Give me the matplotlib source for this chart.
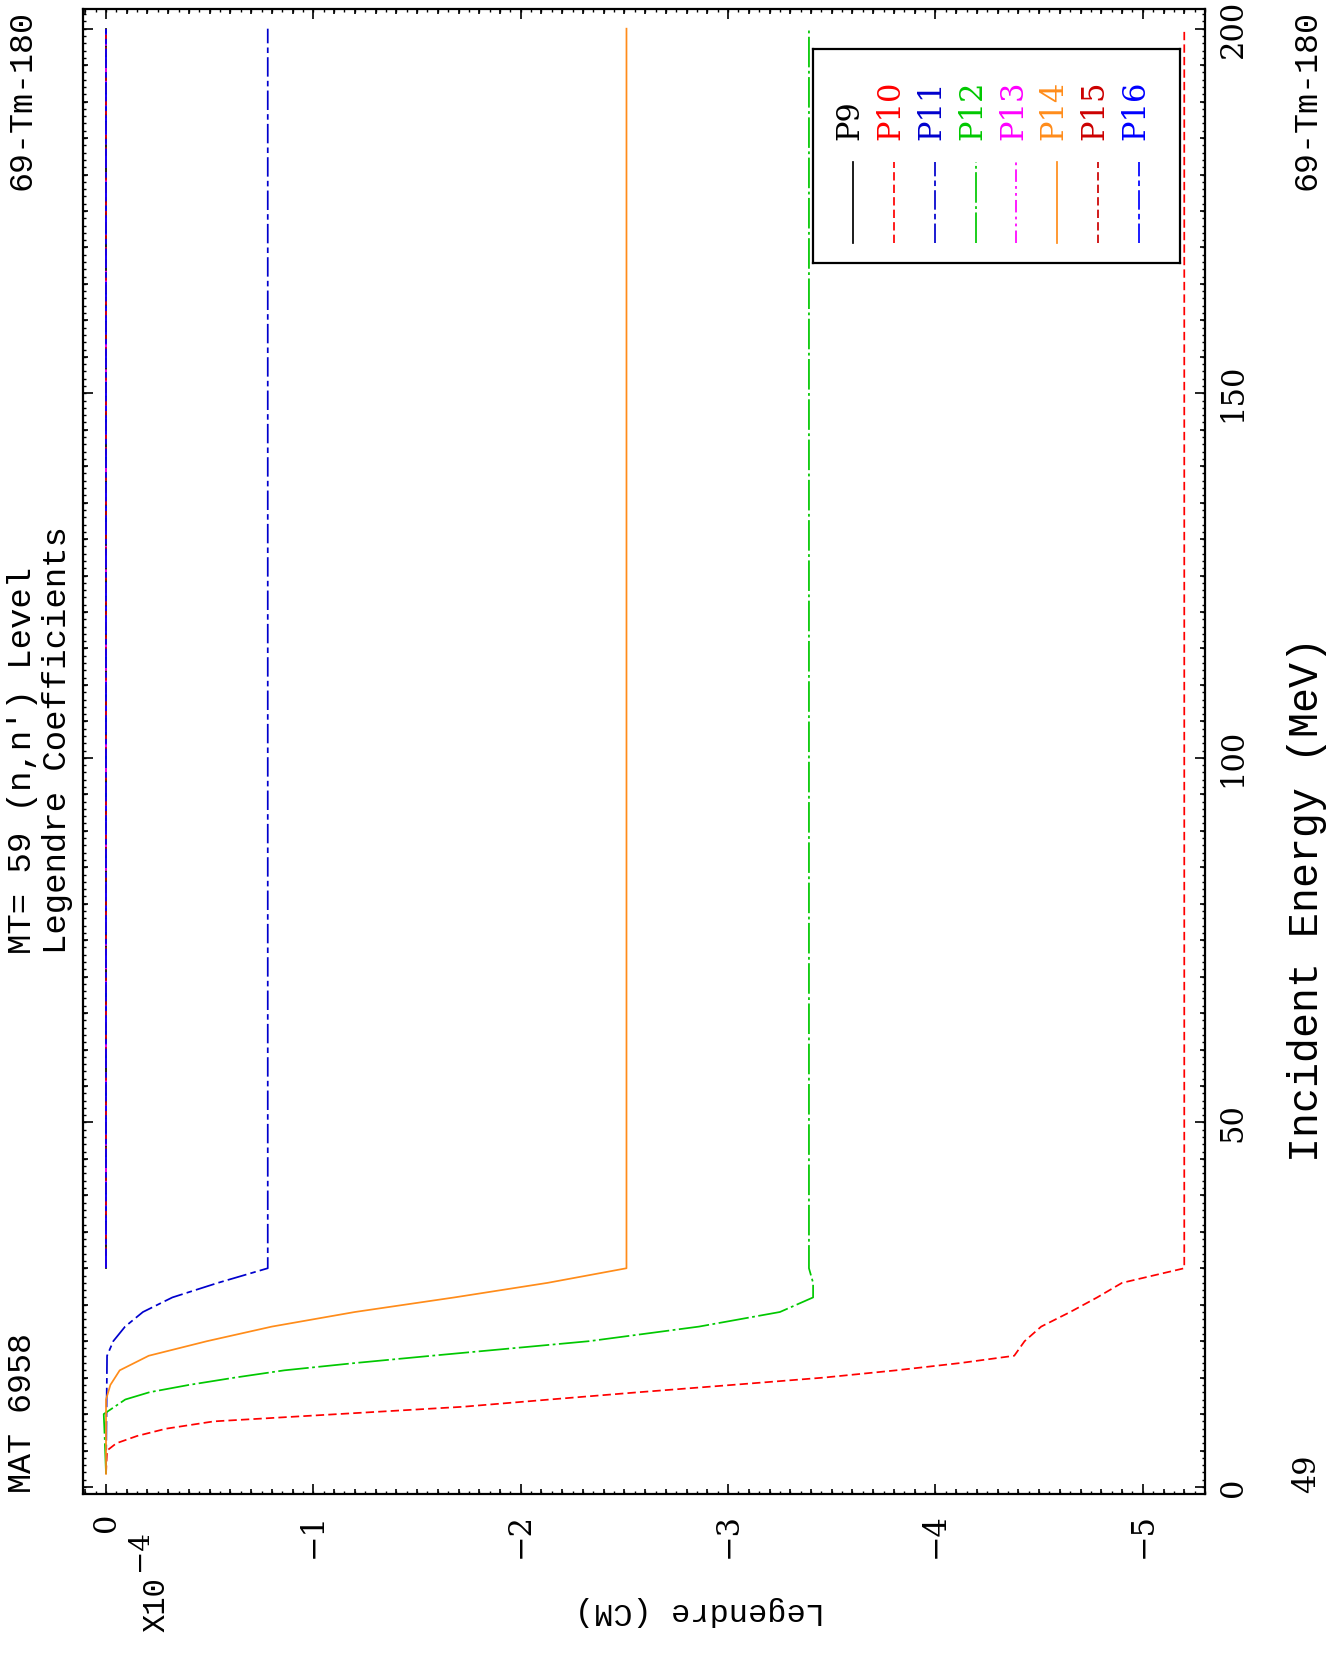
import matplotlib
matplotlib.use('Agg')
import matplotlib.pyplot as plt
from matplotlib.ticker import MultipleLocator, FixedLocator, FuncFormatter

plt.rcParams['lines.scale_dashes'] = False

W, H = 1334, 1662

# Legendre coefficients (units of 1e-4) vs incident energy (MeV)
names = ['P9', 'P10', 'P11', 'P12', 'P13', 'P14', 'P15', 'P16']
colors = ['black', '#ff0000', '#0000cd', '#00c800', '#ff00ff', '#ff8c1a', '#cc0000', '#0000ff']

e_p9 = [30, 200]
v_p9 = [0.0, 0.0]

e_p10 = [1.8, 5, 6, 7, 8, 9, 10, 11, 12, 13, 14, 15, 16, 17, 18, 20, 22, 24, 26, 28, 30, 200]
v_p10 = [0.0, -0.005, -0.05, -0.15, -0.29, -0.52, -1.12, -1.72, -2.14, -2.57, -3.02,
         -3.46, -3.81, -4.12, -4.38, -4.43, -4.51, -4.65, -4.78, -4.90, -5.20, -5.20]

e_p11 = [1.8, 18, 20, 22, 24, 26, 28, 30, 200]
v_p11 = [0.0, -0.005, -0.035, -0.092, -0.178, -0.32, -0.54, -0.78, -0.78]

e_p12 = [1.8, 8, 10, 12, 13, 14, 15, 16, 17, 18, 19, 20, 22, 24, 26, 28, 30, 200]
v_p12 = [0.0, 0.008, 0.011, -0.093, -0.21, -0.40, -0.62, -0.86, -1.20, -1.57, -1.95,
         -2.33, -2.86, -3.25, -3.41, -3.41, -3.39, -3.39]

e_p13 = [30, 200]
v_p13 = [0.0, 0.0]

e_p14 = [1.8, 12, 14, 16, 18, 20, 22, 24, 26, 28, 30, 200]
v_p14 = [0.0, 0.0, -0.021, -0.066, -0.206, -0.487, -0.80, -1.20, -1.68, -2.13, -2.51, -2.51]

e_p15 = [30, 200]
v_p15 = [0.0, 0.0]

e_p16 = [30, 200]
v_p16 = [0.0, 0.0]

energies = [e_p9, e_p10, e_p11, e_p12, e_p13, e_p14, e_p15, e_p16]
values = [v_p9, v_p10, v_p11, v_p12, v_p13, v_p14, v_p15, v_p16]
dashes = [None, (6, 3), (14, 3, 4, 3), (22, 2.5, 2, 2.5),
          (9, 3, 2, 3, 2, 3), None, (6, 3), (14, 3, 4, 3)]

energy_ticks = [0, 50, 100, 150, 200]
value_ticks = [0, -1, -2, -3, -4, -5]

xmin, xmax = 0.111, -5.30
ymin, ymax = -0.96, 202.7

serif = 'DejaVu Serif'
mono = 'Liberation Mono'


def fx(px):
    return px / W


def fy(py):
    return 1 - py / H


fig = plt.figure(figsize=(W / 100, H / 100), dpi=100)
rect = [fx(83), fy(1494), fx(1205) - fx(83), fy(9) - fy(1494)]
ax = fig.add_axes(rect)

for e, v, c, d in zip(energies, values, colors, dashes):
    line, = ax.plot(v, e, color=c, lw=1.25)
    if d is not None:
        line.set_dashes(d)

ax.set_xlim(xmin, xmax)
ax.set_ylim(ymin, ymax)
for s in ax.spines.values():
    s.set_linewidth(1.6)

ax.xaxis.set_major_locator(FixedLocator(value_ticks))
ax.xaxis.set_minor_locator(MultipleLocator(0.1))
ax.yaxis.set_major_locator(FixedLocator(energy_ticks))
ax.yaxis.set_minor_locator(MultipleLocator(5))
ax.xaxis.set_major_formatter(FuncFormatter(lambda v, p: '%d' % v if v == 0 else '\u2212%d' % abs(v)))
ax.tick_params(which='both', direction='in', top=True, right=True, width=1.2,
               labelleft=False, labelright=True, labelsize=22)
ax.tick_params(which='major', length=7)
ax.tick_params(which='minor', length=3.8)
ax.tick_params(axis='x', which='major', pad=13.5)
ax.tick_params(axis='y', which='major', pad=9)
for lab in ax.get_xticklabels():
    lab.set_rotation(90)
    lab.set_ha('center')
    lab.set_va('top')
    lab.set_family(serif)
for lab in ax.get_yticklabels():
    lab.set_rotation(90)
    lab.set_ha('left')
    lab.set_va('center')
    lab.set_family(serif)

# finest tick level (0.05 units / 1 MeV)
ax_t = fig.add_axes(rect, facecolor='none')
ax_t.set_xlim(xmin, xmax)
ax_t.set_ylim(ymin, ymax)
for s in ax_t.spines.values():
    s.set_visible(False)
ax_t.xaxis.set_major_locator(MultipleLocator(0.05))
ax_t.yaxis.set_major_locator(MultipleLocator(1))
ax_t.tick_params(direction='in', length=2, width=1, top=True, right=True,
                 labelbottom=False, labelleft=False)

# legend box (entries drawn as columns, text rotated)
lg = fig.add_axes([fx(813), fy(263), fx(1180) - fx(813), fy(49) - fy(263)])
lg.set_xlim(0, 1)
lg.set_ylim(0, 1)
lg.set_xticks([])
lg.set_yticks([])
for s in lg.spines.values():
    s.set_linewidth(1.6)
for i, (n, c, d) in enumerate(zip(names, colors, dashes)):
    x = 0.109 + i * 0.1113
    line, = lg.plot([x, x], [0.093, 0.472], color=c, lw=1.25)
    if d is not None:
        line.set_dashes(d)
    lg.text(x - 0.008, 0.575, n, rotation=90, ha='center', va='bottom', color=c,
            fontsize=22, family=serif)

# page texts
fig.text(fx(23), fy(954), "MT= 59 (n,n') Level", rotation=90, ha='center', va='bottom',
         fontsize=24.5, family=mono)
fig.text(fx(58), fy(954), "Legendre Coefficients", rotation=90, ha='center', va='bottom',
         fontsize=24.5, family=mono)
fig.text(fx(23), fy(1493), "MAT 6958", rotation=90, ha='center', va='bottom',
         fontsize=24, family=mono)
fig.text(fx(22), fy(10), "69-Tm-180", rotation=90, ha='center', va='top',
         fontsize=24, family=mono)
fig.text(fx(1307), fy(10), "69-Tm-180", rotation=90, ha='center', va='top',
         fontsize=24, family=mono)
fig.text(fx(1307), fy(1493), "49", rotation=90, ha='center', va='bottom',
         fontsize=22, family=serif)
fig.text(fx(1307), fy(900), "Incident Energy (MeV)", rotation=90, ha='center', va='center',
         fontsize=30, family=mono)
fig.text(fx(700), fy(1611), "Legendre (CM)", rotation=180, ha='center', va='center',
         fontsize=23, family=mono)
fig.text(fx(139), fy(1551), "\u22124", rotation=90, ha='center', va='center',
         fontsize=20, family=serif)
fig.text(fx(156), fy(1605), "X10", rotation=90, ha='center', va='center',
         fontsize=22, family=mono)

fig.savefig('out.png', dpi=100)
